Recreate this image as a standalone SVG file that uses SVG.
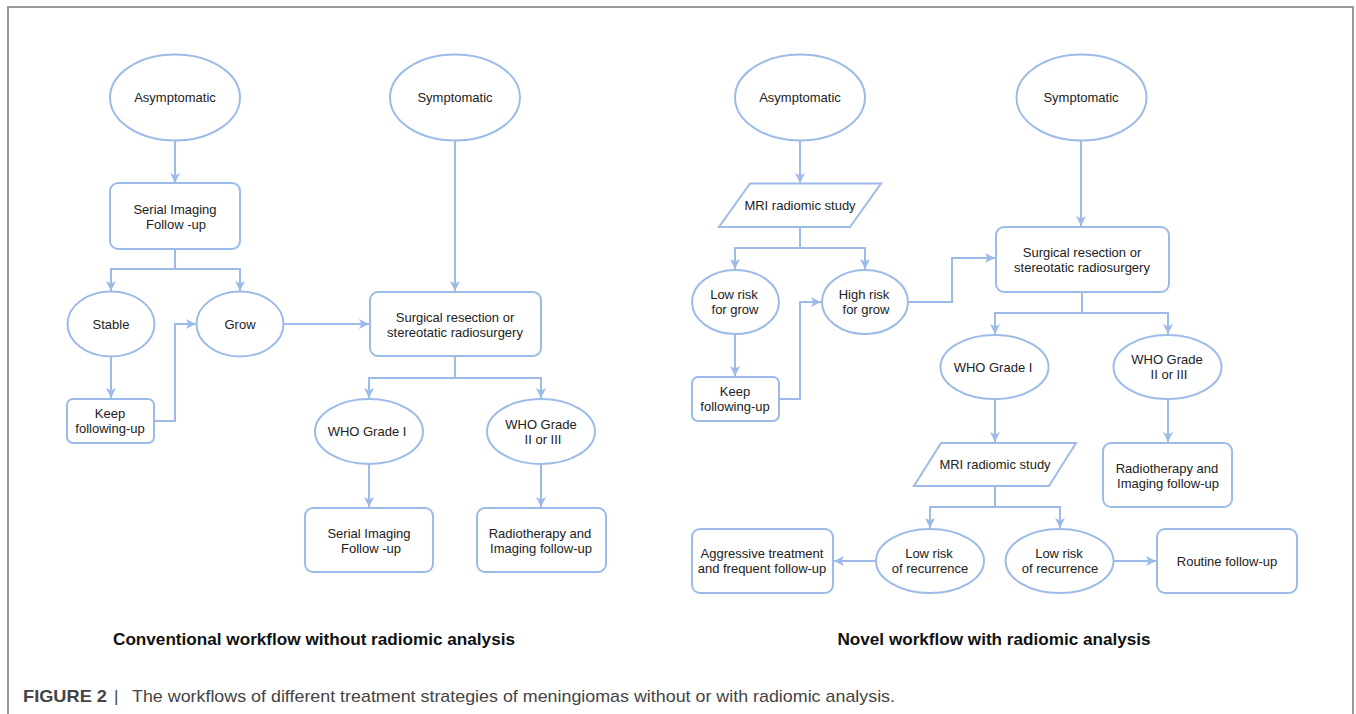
<svg xmlns="http://www.w3.org/2000/svg" width="1356" height="714" viewBox="0 0 1356 714">
<defs>
<style>
.n{fill:#fff;stroke:#9dbbe8;stroke-width:2}
.c{fill:none;stroke:#9dbbe8;stroke-width:2}
.t{font-family:"Liberation Sans",Arial,sans-serif;font-size:13px;fill:#222;text-anchor:middle}
.h{font-family:"Liberation Sans",Arial,sans-serif;font-size:16px;font-weight:bold;fill:#111;text-anchor:middle}
.cap{font-family:"Liberation Sans",Arial,sans-serif;font-size:17px;fill:#444}
</style>
<marker id="a" markerUnits="userSpaceOnUse" markerWidth="11" markerHeight="10" refX="10" refY="5" orient="auto">
<path d="M0,0 L10,5 L0,10 L2.5,5 z" fill="#9dbbe8"/>
</marker>
</defs>
<rect width="1356" height="714" fill="#fff"/>
<path d="M8,714 V7 H1353 V714" fill="none" stroke="#9a9a9a" stroke-width="2"/>

<g id="connectors">
<path class="c" d="M175,141 V183" marker-end="url(#a)"/>
<path class="c" d="M175,249 V269 H111 V291" marker-end="url(#a)"/>
<path class="c" d="M175,269 H240 V291" marker-end="url(#a)"/>
<path class="c" d="M455,141 V291" marker-end="url(#a)"/>
<path class="c" d="M283,324 H369" marker-end="url(#a)"/>
<path class="c" d="M111,356 V398" marker-end="url(#a)"/>
<path class="c" d="M154,421 H175 V324 H196" marker-end="url(#a)"/>
<path class="c" d="M455,356 V378 H369 V398" marker-end="url(#a)"/>
<path class="c" d="M455,378 H541 V398" marker-end="url(#a)"/>
<path class="c" d="M369,464 V507" marker-end="url(#a)"/>
<path class="c" d="M541,464 V507" marker-end="url(#a)"/>

<path class="c" d="M800,141 V183" marker-end="url(#a)"/>
<path class="c" d="M800,227 V248 H735 V269" marker-end="url(#a)"/>
<path class="c" d="M800,248 H865 V269" marker-end="url(#a)"/>
<path class="c" d="M1081,141 V226" marker-end="url(#a)"/>
<path class="c" d="M908,302 H952 V258 H995" marker-end="url(#a)"/>
<path class="c" d="M735,334 V376" marker-end="url(#a)"/>
<path class="c" d="M779,399 H800 V302 H821" marker-end="url(#a)"/>
<path class="c" d="M1082,292 V313 H995 V334" marker-end="url(#a)"/>
<path class="c" d="M1082,313 H1168 V334" marker-end="url(#a)"/>
<path class="c" d="M995,399 V442" marker-end="url(#a)"/>
<path class="c" d="M1168,399 V442" marker-end="url(#a)"/>
<path class="c" d="M995,486 V507 H930 V528" marker-end="url(#a)"/>
<path class="c" d="M995,507 H1060 V528" marker-end="url(#a)"/>
<path class="c" d="M876,561 H834" marker-end="url(#a)"/>
<path class="c" d="M1114,561 H1156" marker-end="url(#a)"/>
</g>

<g id="l-asym"><ellipse class="n" cx="175" cy="97.5" rx="65" ry="43"/><text class="t" x="175" y="102">Asymptomatic</text></g>
<g id="l-sym"><ellipse class="n" cx="455" cy="97.5" rx="65" ry="43"/><text class="t" x="455" y="102">Symptomatic</text></g>
<g id="l-serial"><rect class="n" x="110" y="183" width="130" height="66" rx="8"/><text class="t" x="175" y="213.5">Serial Imaging</text><text class="t" x="176" y="228.5">Follow -up</text></g>
<g id="l-stable"><ellipse class="n" cx="111" cy="324" rx="43.5" ry="32.5"/><text class="t" x="111" y="328.5">Stable</text></g>
<g id="l-grow"><ellipse class="n" cx="240" cy="324" rx="43.5" ry="32.5"/><text class="t" x="240" y="328.5">Grow</text></g>
<g id="l-surg"><rect class="n" x="370" y="292" width="171" height="64" rx="8"/><text class="t" x="455" y="321.5">Surgical resection or</text><text class="t" x="455" y="336.5">stereotatic radiosurgery</text></g>
<g id="l-keep"><rect class="n" x="67" y="399" width="87" height="44" rx="6"/><text class="t" x="110" y="418">Keep</text><text class="t" x="110" y="433">following-up</text></g>
<g id="l-who1"><ellipse class="n" cx="369" cy="431.5" rx="54" ry="32.5"/><text class="t" x="367" y="436">WHO Grade I</text></g>
<g id="l-who2"><ellipse class="n" cx="541" cy="431.5" rx="54" ry="32.5"/><text class="t" x="541" y="428.5">WHO Grade</text><text class="t" x="543" y="443.5">II or III</text></g>
<g id="l-serial2"><rect class="n" x="305" y="508" width="128" height="64" rx="8"/><text class="t" x="369" y="537.5">Serial Imaging</text><text class="t" x="371" y="552.5">Follow -up</text></g>
<g id="l-radio"><rect class="n" x="477" y="508" width="129" height="64" rx="8"/><text class="t" x="540" y="537.5">Radiotherapy and</text><text class="t" x="541" y="552.5">Imaging follow-up</text></g>

<g id="r-asym"><ellipse class="n" cx="800" cy="97.5" rx="65" ry="43"/><text class="t" x="800" y="102">Asymptomatic</text></g>
<g id="r-sym"><ellipse class="n" cx="1081.5" cy="97.5" rx="65" ry="43"/><text class="t" x="1081" y="102">Symptomatic</text></g>
<g id="r-mri1"><polygon class="n" points="750,183.5 881,183.5 850,227 719,227"/><text class="t" x="800" y="210">MRI radiomic study</text></g>
<g id="r-low"><ellipse class="n" cx="735.5" cy="302" rx="43.5" ry="32"/><text class="t" x="734" y="299">Low risk</text><text class="t" x="735" y="314">for grow</text></g>
<g id="r-high"><ellipse class="n" cx="865" cy="302" rx="43" ry="32"/><text class="t" x="864" y="299">High risk</text><text class="t" x="866" y="314">for grow</text></g>
<g id="r-surg"><rect class="n" x="996" y="227" width="173" height="65" rx="8"/><text class="t" x="1082" y="256.5">Surgical resection or</text><text class="t" x="1082" y="271.5">stereotatic radiosurgery</text></g>
<g id="r-keep"><rect class="n" x="692" y="377" width="87" height="44" rx="6"/><text class="t" x="735" y="396">Keep</text><text class="t" x="735" y="411">following-up</text></g>
<g id="r-who1"><ellipse class="n" cx="994.5" cy="367" rx="54" ry="32"/><text class="t" x="993" y="371.5">WHO Grade I</text></g>
<g id="r-who2"><ellipse class="n" cx="1167.5" cy="367" rx="54" ry="32"/><text class="t" x="1167" y="364">WHO Grade</text><text class="t" x="1169" y="379">II or III</text></g>
<g id="r-mri2"><polygon class="n" points="941,443 1076,443 1049,486 914,486"/><text class="t" x="995" y="469">MRI radiomic study</text></g>
<g id="r-radio"><rect class="n" x="1103" y="443" width="129" height="64" rx="8"/><text class="t" x="1167" y="472.5">Radiotherapy and</text><text class="t" x="1168" y="487.5">Imaging follow-up</text></g>
<g id="r-rec1"><ellipse class="n" cx="930" cy="561" rx="54" ry="32"/><text class="t" x="929" y="558">Low risk</text><text class="t" x="930" y="573">of recurrence</text></g>
<g id="r-rec2"><ellipse class="n" cx="1059.5" cy="561" rx="54" ry="32"/><text class="t" x="1059" y="558">Low risk</text><text class="t" x="1060" y="573">of recurrence</text></g>
<g id="r-aggr"><rect class="n" x="692" y="529" width="141" height="64" rx="8"/><text class="t" x="762" y="558">Aggressive treatment</text><text class="t" x="762" y="573">and frequent follow-up</text></g>
<g id="r-routine"><rect class="n" x="1157" y="529" width="140" height="64" rx="8"/><text class="t" x="1227" y="565.5">Routine follow-up</text></g>

<g id="titles">
<text class="h" x="314" y="645" textLength="402" lengthAdjust="spacingAndGlyphs">Conventional workflow without radiomic analysis</text>
<text class="h" x="994" y="645" textLength="313" lengthAdjust="spacingAndGlyphs">Novel workflow with radiomic analysis</text>
</g>
<g id="caption">
<text class="cap" x="23" y="702" font-weight="bold" fill="#333" textLength="84" lengthAdjust="spacingAndGlyphs">FIGURE 2</text>
<text class="cap" x="114" y="702" fill="#999">|</text>
<text class="cap" x="132" y="702" textLength="763" lengthAdjust="spacingAndGlyphs">The workflows of different treatment strategies of meningiomas without or with radiomic analysis.</text>
</g>
</svg>
